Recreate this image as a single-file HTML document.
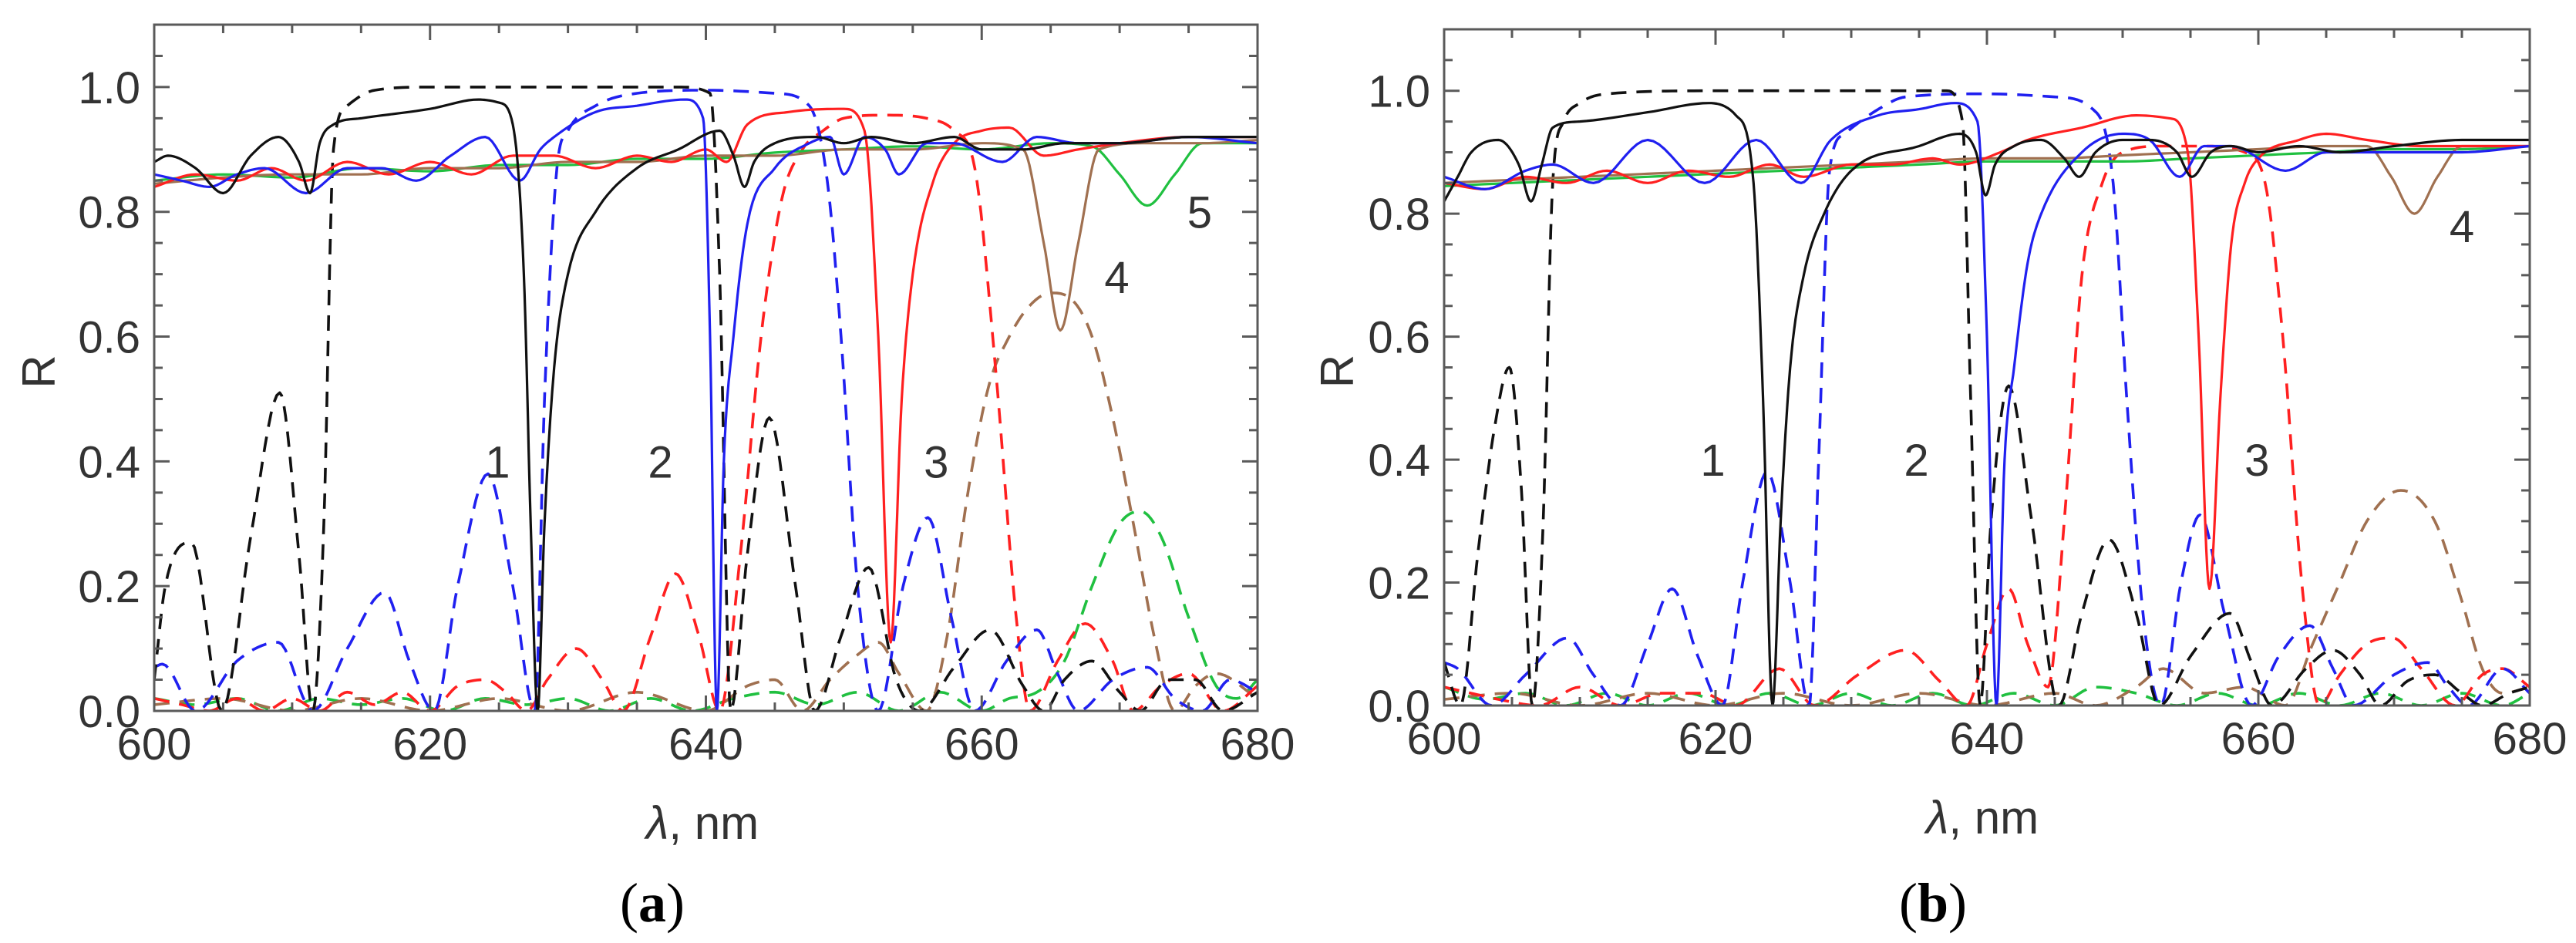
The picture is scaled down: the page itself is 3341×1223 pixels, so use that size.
<!DOCTYPE html>
<html><head><meta charset="utf-8"><style>
html,body{margin:0;padding:0;background:#fff;}
svg{display:block;}
text{font-family:"Liberation Sans",sans-serif;fill:#333;}
</style></head><body>
<svg id="fig" width="3341" height="1223" viewBox="0 0 3341 1223" xmlns="http://www.w3.org/2000/svg"></svg>
<script>
// ---- Panel (a) data ----
const aBlkSolidX=[600,601,603,605,607,609,610.5,611.3,612,613,615,620,623.5,625,626,626.8,627.3,627.8,628.3,629,630,632,635,638,641,642,642.8,643.5,645,648,650,652,655,658,660,663,666,670,675,680];
const aBlkSolidY=[0.88,0.89,0.87,0.83,0.89,0.92,0.88,0.83,0.91,0.94,0.95,0.965,0.98,0.975,0.94,0.7,0.3,0.0,0.3,0.55,0.7,0.8,0.87,0.9,0.93,0.89,0.84,0.88,0.91,0.92,0.91,0.92,0.91,0.92,0.9,0.9,0.91,0.91,0.92,0.92];
const aBluSolidX=[600,602,604,606,608,611,614,616.5,619,621.5,624,626.5,628,629,632,635,638.5,639.8,640.3,640.8,641.3,642,643,645,647.5,649,650,651.5,653,654,656,658,661.5,664,667,670,675,680];
const aBluSolidY=[0.86,0.85,0.84,0.86,0.87,0.83,0.87,0.87,0.85,0.89,0.92,0.85,0.9,0.92,0.96,0.97,0.98,0.95,0.6,0.0,0.4,0.6,0.78,0.87,0.91,0.92,0.86,0.92,0.9,0.86,0.91,0.91,0.88,0.92,0.91,0.91,0.92,0.91];
const aRedSolidX=[600,603,606,608.5,611,614,617,620,623,626,629,632,635,637.5,640,641.5,643,646,650,651.5,652.5,653.4,654.2,655,656.5,658,660,662,664.5,667,670,675,680];
const aRedSolidY=[0.84,0.86,0.85,0.87,0.85,0.88,0.86,0.88,0.86,0.89,0.89,0.87,0.89,0.88,0.9,0.88,0.94,0.96,0.965,0.93,0.6,0.11,0.5,0.7,0.85,0.91,0.93,0.935,0.89,0.9,0.91,0.92,0.92];
const aGrnSolidX=[600,605,610,615,620,625,630,635,640,645,650,655,660,665,668,670,672,674,676,680];
const aGrnSolidY=[0.85,0.86,0.855,0.87,0.865,0.875,0.875,0.885,0.885,0.895,0.9,0.905,0.9,0.91,0.905,0.86,0.81,0.86,0.91,0.91];
const aBrnSolidX=[600,605,610,615,620,625,630,635,640,645,650,655,660,663,664.5,665.7,667,668.5,672,676,680];
const aBrnSolidY=[0.845,0.855,0.86,0.86,0.87,0.87,0.88,0.88,0.89,0.89,0.9,0.9,0.91,0.9,0.75,0.61,0.75,0.9,0.91,0.91,0.915];
const aBlkDashX=[600,600.8,602.7,604.9,607,609.1,610.5,611.5,612.3,613,614,616,620,630,638,640.3,641,641.8,643,644.6,646.5,647.9,649.8,651.8,653.8,655.5,658,660.6,663,664.5,666,668,670,671.5,673.5,675.5,677.5,680];
const aBlkDashY=[0.05,0.2,0.27,0.0,0.28,0.51,0.25,0.0,0.3,0.9,0.97,0.995,1.0,1.0,1.0,0.99,0.7,0.0,0.25,0.47,0.2,0.0,0.12,0.23,0.05,0.0,0.07,0.13,0.04,0.0,0.05,0.08,0.03,0.0,0.05,0.05,0.0,0.03];
const aBluDashX=[600,600.6,603,606,609,611.5,614,616.7,618.5,620.3,622,624.2,626,627.6,628.3,629.2,630,632,635,640,645,647.5,648.8,649.8,651,652.5,654.3,656.1,657.8,659.5,661.8,664,665.5,667,669.5,672,674,676,678,680];
const aBluDashY=[0.07,0.075,0.0,0.08,0.11,0.0,0.1,0.19,0.08,0.0,0.2,0.38,0.2,0.0,0.5,0.87,0.93,0.97,0.99,0.995,0.99,0.97,0.85,0.6,0.2,0.0,0.2,0.31,0.15,0.0,0.08,0.13,0.06,0.0,0.05,0.07,0.02,0.0,0.05,0.03];
const aRedDashX=[600,602,604,606,608,610,612,614,616,618,620,622,624,625.5,627,628.5,630.6,632.5,634,636,637.8,639.5,641,642.5,644,645.5,647,648.5,650,653,656,658,659.5,661,662.5,663.5,665.5,667.5,669.5,671,673,675,677.5,680];
const aRedDashY=[0.02,0.01,0.0,0.02,0.0,0.02,0.0,0.03,0.01,0.03,0.0,0.04,0.05,0.03,0.0,0.05,0.1,0.05,0.0,0.12,0.22,0.12,0.0,0.25,0.6,0.82,0.9,0.93,0.95,0.955,0.95,0.93,0.87,0.55,0.15,0.0,0.08,0.14,0.08,0.0,0.04,0.06,0.0,0.04];
const aBrnDashX=[600,605,610,615,620,625,630,635,640,643,645,647,649,651,652.5,654,656,657.5,659,660.5,662,663.5,665,666.5,668,669.5,671,672.5,674,675.5,677,680];
const aBrnDashY=[0.01,0.02,0.0,0.02,0.0,0.02,0.0,0.03,0.0,0.04,0.05,0.0,0.05,0.09,0.11,0.06,0.0,0.12,0.35,0.52,0.6,0.65,0.67,0.66,0.6,0.47,0.3,0.12,0.0,0.04,0.06,0.02];
const aGrnDashX=[600,603,606,609,612,615,618,621,624,627,630,633,636,639,642,645,648,651,654,657,660,662,664,666,668,670,671.5,673,675,677,678.5,680];
const aGrnDashY=[0.02,0.01,0.02,0.0,0.02,0.01,0.02,0.0,0.02,0.01,0.02,0.0,0.02,0.0,0.02,0.03,0.01,0.03,0.0,0.03,0.0,0.02,0.03,0.08,0.2,0.3,0.32,0.28,0.15,0.04,0.02,0.05];
// ---- Panel (b) data ----
const bBlkSolidX=[600,601,602,604,605.5,606.4,607.2,608,610,615,619.5,621.5,622.8,623.5,624.2,624.8,625.5,626.5,628,630,635,638,639.2,639.9,640.6,642,644,645.7,646.8,648,650,652,654,655.1,656.5,658,660,663,666,670,675,680];
const bBlkSolidY=[0.82,0.86,0.9,0.92,0.88,0.82,0.88,0.94,0.95,0.965,0.98,0.96,0.85,0.5,0.0,0.3,0.55,0.7,0.8,0.87,0.91,0.93,0.9,0.83,0.88,0.91,0.92,0.89,0.86,0.9,0.92,0.92,0.9,0.86,0.9,0.91,0.9,0.91,0.9,0.91,0.92,0.92];
const bBluSolidX=[600,603,606,608,611,615,619.2,623,626.3,628.5,632,635,637.6,639.3,640,640.7,641.3,642,643,644,647,650,652,654.2,656,658,662,665,670,675,680];
const bBluSolidY=[0.86,0.84,0.87,0.88,0.85,0.92,0.85,0.92,0.85,0.92,0.96,0.97,0.98,0.95,0.6,0.0,0.4,0.55,0.72,0.8,0.9,0.93,0.92,0.86,0.91,0.91,0.87,0.9,0.9,0.9,0.91];
const bRedSolidX=[600,603,606,609,612,615,618,621,624,626.5,630,633,636,638,641,643,647,651,653.5,654.8,655.6,656.4,657.2,658,659,660,663,665,668,672,676,680];
const bRedSolidY=[0.85,0.84,0.86,0.85,0.87,0.85,0.87,0.86,0.88,0.86,0.88,0.88,0.89,0.88,0.9,0.92,0.94,0.96,0.955,0.9,0.6,0.19,0.5,0.75,0.85,0.89,0.92,0.93,0.92,0.91,0.91,0.91];
const bGrnSolidX=[600,605,610,615,620,625,630,635,640,645,650,655,660,665,670,675,680];
const bGrnSolidY=[0.845,0.85,0.855,0.86,0.865,0.87,0.875,0.88,0.885,0.885,0.885,0.89,0.895,0.9,0.905,0.905,0.91];
const bBrnSolidX=[600,605,610,615,620,625,630,635,640,645,650,655,660,665,668,669.8,671.5,673.2,675,680];
const bBrnSolidY=[0.85,0.855,0.86,0.865,0.87,0.875,0.88,0.885,0.89,0.89,0.895,0.9,0.905,0.91,0.91,0.86,0.8,0.86,0.91,0.91];
const bBlkDashX=[600,601.2,602.5,603.7,604.8,605.7,606.5,607.3,608,608.8,610,612,620,630,637,638.2,638.8,639.5,640.3,641.6,643.3,645.3,647,649,651,652.7,655,657.9,659.5,661,663.5,665.5,667.5,669,671,673,675,676.5,678.5,680];
const bBlkDashY=[0.07,0.0,0.25,0.45,0.55,0.35,0.0,0.3,0.85,0.95,0.98,0.995,1.0,1.0,1.0,0.95,0.5,0.0,0.3,0.52,0.3,0.0,0.15,0.27,0.15,0.0,0.08,0.15,0.07,0.0,0.06,0.09,0.05,0.0,0.04,0.05,0.02,0.0,0.02,0.03];
const bBluDashX=[600,601,603.5,606,609.1,611,613,615,616.8,618.7,620.5,622,623.8,625.5,626.9,627.6,628.4,629.5,632,634,640,645,647.8,649.3,650.3,651.5,652.8,654.3,655.7,657.5,659.5,661.5,663.8,665.5,667,670,672.5,674,675.5,678,680];
const bBluDashY=[0.07,0.06,0.0,0.05,0.11,0.05,0.0,0.1,0.19,0.08,0.0,0.2,0.38,0.2,0.0,0.4,0.87,0.93,0.97,0.99,0.995,0.99,0.97,0.85,0.5,0.15,0.0,0.2,0.31,0.15,0.0,0.08,0.13,0.06,0.0,0.05,0.07,0.03,0.0,0.06,0.02];
const bRedDashX=[600,602,604,607,610,613,616,619,621.5,624.7,627.3,630.5,634,636.5,638.5,640,641.6,643,644.5,645.7,647,648.5,650,653,656,659,660.5,661.8,663.2,664.5,666,668,669.9,672,674.5,676.5,678,680];
const bRedDashY=[0.03,0.02,0.01,0.0,0.03,0.0,0.02,0.02,0.0,0.06,0.0,0.05,0.09,0.04,0.0,0.1,0.19,0.1,0.03,0.3,0.7,0.85,0.9,0.91,0.91,0.9,0.85,0.6,0.2,0.0,0.05,0.1,0.11,0.06,0.0,0.05,0.06,0.03];
const bBrnDashX=[600,605,610,615,620,625,630,635,640,645,648,651,653,656,659,662,664,666,668,670.5,673,675,676.5,678,680];
const bBrnDashY=[0.01,0.02,0.0,0.02,0.0,0.02,0.0,0.02,0.0,0.02,0.0,0.03,0.06,0.02,0.03,0.0,0.1,0.2,0.3,0.35,0.3,0.17,0.06,0.02,0.03];
const bGrnDashX=[600,603,606,609,612,615,618,621,624,627,630,633,636,639,642,645,648,651,654,657,660,663,666,669,672,675,678,680];
const bGrnDashY=[0.03,0.01,0.02,0.0,0.02,0.0,0.02,0.0,0.02,0.0,0.02,0.0,0.02,0.0,0.02,0.0,0.03,0.02,0.0,0.02,0.0,0.02,0.0,0.02,0.0,0.02,0.0,0.02];
const xTicks=[600,620,640,660,680];
const yTicks=[0.0,0.2,0.4,0.6,0.8,1.0];
const yTickLabels=["0.0","0.2","0.4","0.6","0.8","1.0"];
const annotA=[["1",624.9,0.4],["2",636.7,0.4],["3",656.7,0.4],["4",669.8,0.696],["5",675.8,0.8]];
const annotB=[["1",619.8,0.4],["2",634.8,0.4],["3",659.9,0.4],["4",675,0.78]];

const NS="http://www.w3.org/2000/svg";
const svg=document.getElementById('fig');
function mk(tag,attrs,parent){const e=document.createElementNS(NS,tag);for(const k in attrs)e.setAttribute(k,attrs[k]);(parent||svg).appendChild(e);return e;}
const COL={blk:"#111111",blu:"#2020f0",red:"#ff2020",grn:"#20c040",brn:"#a07050"};

function monotone(xs,ys){
  const n=xs.length,d=[],m=new Array(n);
  for(let i=0;i<n-1;i++)d.push((ys[i+1]-ys[i])/(xs[i+1]-xs[i]));
  m[0]=d[0];m[n-1]=d[n-2];
  for(let i=1;i<n-1;i++){m[i]=(d[i-1]*d[i]<=0)?0:(d[i-1]+d[i])/2;}
  for(let i=0;i<n-1;i++){if(d[i]===0){m[i]=0;m[i+1]=0;continue;}const a=m[i]/d[i],b=m[i+1]/d[i],s=a*a+b*b;if(s>9){const t=3/Math.sqrt(s);m[i]=t*a*d[i];m[i+1]=t*b*d[i];}}
  const out=[];
  for(let i=0;i<n-1;i++){const h=xs[i+1]-xs[i];const N=10;for(let k=0;k<N;k++){const t=k/N,t2=t*t,t3=t2*t;
    const y=(2*t3-3*t2+1)*ys[i]+(t3-2*t2+t)*h*m[i]+(-2*t3+3*t2)*ys[i+1]+(t3-t2)*h*m[i+1];out.push([xs[i]+t*h,y]);}}
  out.push([xs[n-1],ys[n-1]]);return out;
}

function panel(id,P,series,annot,cap,rx,lx){
  const g=mk('g',{});
  
  
  const sx=v=>P.l+(v-600)/80*(P.r-P.l);
  const sy=v=>P.b-v/1.1*(P.b-P.t);
  const clipId='clip'+id;
  const cp=mk('clipPath',{id:clipId},g);mk('rect',{x:P.l,y:P.t,width:P.r-P.l,height:P.b-P.t},cp);
  const sg=mk('g',{'clip-path':'url(#'+clipId+')'},g);
  series.forEach(s=>{
    const pts=monotone(s.x,s.y).map(p=>sx(p[0]).toFixed(1)+','+sy(p[1]).toFixed(1)).join(' ');
    const pl=mk('polyline',{points:pts,fill:'none',stroke:COL[s.c],'stroke-width':s.d?3.6:3.2,'stroke-linejoin':'round','stroke-dasharray':s.d?'20 13':'none'},sg);
    
    
  });
  const fr=mk('rect',{x:P.l,y:P.t,width:P.r-P.l,height:P.b-P.t,fill:'none',stroke:'#5a5a5a','stroke-width':3},g);
  
  
  let tk='';
  for(let v=600;v<=680;v+=5){const x=sx(v),L=(v%20===0)?20:11;tk+=`M${x},${P.b}v${-L}M${x},${P.t}v${L}`;}
  for(let i=0;i<=22;i++){const v=i*0.05,y=sy(v),L=(i%4===0)?20:11;tk+=`M${P.l},${y}h${L}M${P.r},${y}h${-L}`;}
  mk('path',{d:tk,stroke:'#5a5a5a','stroke-width':3,fill:'none'},g);
  xTicks.forEach(v=>{const t=mk('text',{x:sx(v),y:P.b+63,'font-size':58,'text-anchor':'middle'},g);t.textContent=v;
    
    });
  yTicks.forEach((v,i)=>{const t=mk('text',{x:P.l-18,y:sy(v)+21,'font-size':58,'text-anchor':'end'},g);t.textContent=yTickLabels[i];
    
    });
  const yt=mk('text',{x:rx,y:(P.t+P.b)/2+28,'font-size':60,'text-anchor':'middle',transform:`rotate(-90 ${rx} ${(P.t+P.b)/2+5})`},g);yt.textContent='R';
  
  
  const xt=mk('text',{x:lx,y:P.b+166,'font-size':60,'text-anchor':'middle'},g);
  xt.innerHTML='<tspan font-style="italic">λ</tspan>, nm';
  
  
  annot.forEach(a=>{const t=mk('text',{x:sx(a[1]),y:sy(a[2])+21,'font-size':58,'text-anchor':'middle',fill:'#111'},g);t.textContent=a[0];
    
    });
  const c=mk('text',{x:cap,y:1195,'font-size':72,'text-anchor':'middle',style:'font-family:"Liberation Serif",serif;fill:#000'},g);
  c.innerHTML='(<tspan font-weight="bold">'+id+'</tspan>)';
  
  
}
panel('a',{l:200,r:1631,t:32,b:922},[
  {n:'band-5-dashed',x:aGrnDashX,y:aGrnDashY,c:'grn',d:1},
  {n:'band-4-dashed',x:aBrnDashX,y:aBrnDashY,c:'brn',d:1},
  {n:'band-3-dashed',x:aRedDashX,y:aRedDashY,c:'red',d:1},
  {n:'band-2-dashed',x:aBluDashX,y:aBluDashY,c:'blu',d:1},
  {n:'band-1-dashed',x:aBlkDashX,y:aBlkDashY,c:'blk',d:1},
  {n:'curve-5-solid',x:aGrnSolidX,y:aGrnSolidY,c:'grn',d:0},
  {n:'curve-4-solid',x:aBrnSolidX,y:aBrnSolidY,c:'brn',d:0},
  {n:'curve-3-solid',x:aRedSolidX,y:aRedSolidY,c:'red',d:0},
  {n:'curve-2-solid',x:aBluSolidX,y:aBluSolidY,c:'blu',d:0},
  {n:'curve-1-solid',x:aBlkSolidX,y:aBlkSolidY,c:'blk',d:0}
],annotA,846,48,911);
panel('b',{l:1873,r:3281,t:38,b:915},[
  {n:'band-5-dashed',x:bGrnDashX,y:bGrnDashY,c:'grn',d:1},
  {n:'band-4-dashed',x:bBrnDashX,y:bBrnDashY,c:'brn',d:1},
  {n:'band-3-dashed',x:bRedDashX,y:bRedDashY,c:'red',d:1},
  {n:'band-2-dashed',x:bBluDashX,y:bBluDashY,c:'blu',d:1},
  {n:'band-1-dashed',x:bBlkDashX,y:bBlkDashY,c:'blk',d:1},
  {n:'curve-5-solid',x:bGrnSolidX,y:bGrnSolidY,c:'grn',d:0},
  {n:'curve-4-solid',x:bBrnSolidX,y:bBrnSolidY,c:'brn',d:0},
  {n:'curve-3-solid',x:bRedSolidX,y:bRedSolidY,c:'red',d:0},
  {n:'curve-2-solid',x:bBluSolidX,y:bBluSolidY,c:'blu',d:0},
  {n:'curve-1-solid',x:bBlkSolidX,y:bBlkSolidY,c:'blk',d:0}
],annotB,2507,1732,2571);
</script>
</body></html>
